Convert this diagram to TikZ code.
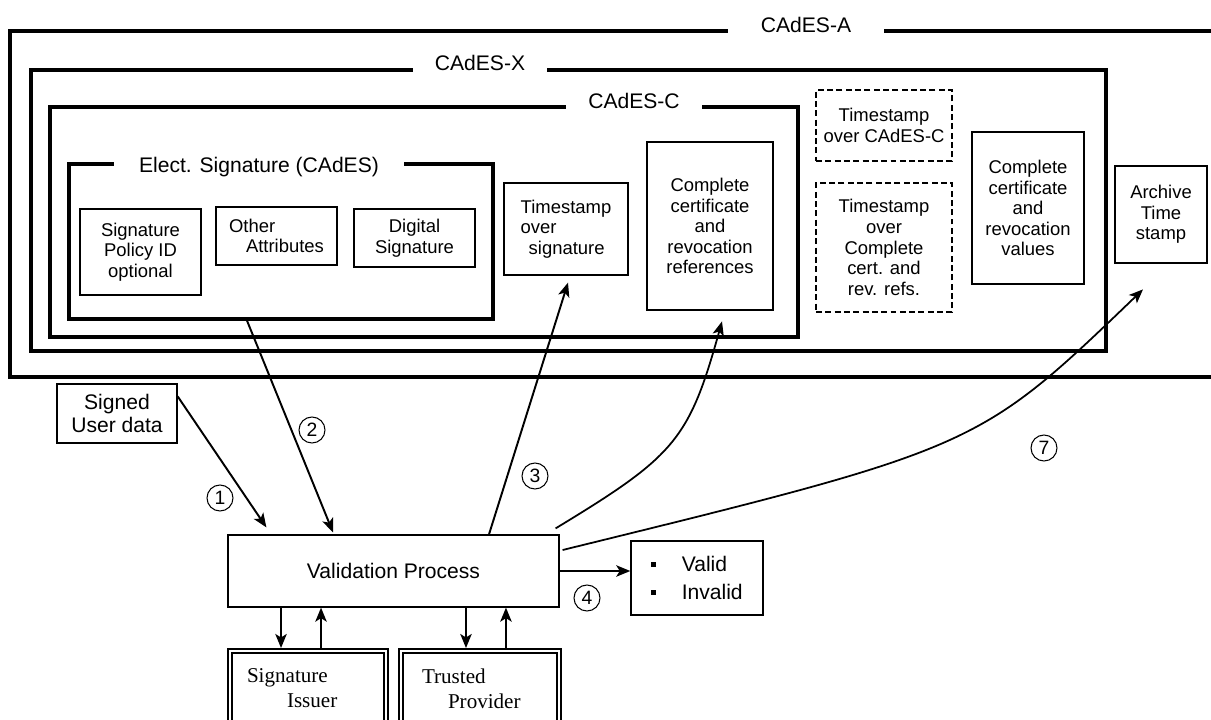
\documentclass[tikz,border=0pt]{standalone}
\usepackage{fontspec}
\setmainfont{Liberation Sans}
\newfontfamily\serifface{Liberation Serif}
\usetikzlibrary{arrows.meta}

\begin{document}
\begin{tikzpicture}[x=0.02cm, y=-0.02cm,
  >={Stealth[length=8pt,width=6.5pt,inset=2pt]},
  cadesframe/.style={draw, line width=1.9pt, inner sep=0pt},
  framelabel/.style={fill=white, inner xsep=0.44cm, inner ysep=2pt, font=\fontsize{12pt}{14pt}\selectfont},
  thinbox/.style={draw, line width=0.75pt, align=center, inner sep=0pt, font=\fontsize{10.5pt}{11.7pt}\selectfont},
  boldbox/.style={thinbox, line width=1.6pt},
  dashbox/.style={thinbox, line width=1.1pt, dash pattern=on 3.4pt off 1.9pt},
  procbox/.style={draw, line width=0.7pt, align=center, inner sep=0pt, font=\fontsize{12pt}{13.6pt}\selectfont},
  dblbox/.style={draw, double, line width=1.1pt, double distance=1.2pt, outer sep=1.7pt, inner sep=0pt, align=left, font=\serifface\fontsize{12pt}{14.2pt}\selectfont},
  numlabel/.style={draw, circle, line width=0.6pt, inner sep=0pt, minimum size=0.52cm, font=\fontsize{11pt}{13pt}\selectfont},
  conn/.style={->, line width=1.1pt},
  bentconn/.style={->, line width=1pt}
]

\useasboundingbox (0,0) rectangle (1211,720);
\clip (0,0) rectangle (1211,720);

% nested CAdES forms
\node[cadesframe, minimum width=24.6cm, minimum height=6.92cm] (cadesa) at (625,204) {};
\node[cadesframe, minimum width=21.5cm, minimum height=5.62cm] (cadesx) at (568.5,210.5) {};
\node[cadesframe, minimum width=14.96cm, minimum height=4.6cm] (cadesc) at (424,222) {};
\node[cadesframe, minimum width=8.48cm, minimum height=3.1cm] (esig) at (281,241.5) {};

\node[framelabel, inner xsep=0.65cm] (labela) at (806,25) {CAdES-A};
\node[framelabel] (labelx) at (480,63) {CAdES-X};
\node[framelabel] (labelc) at (634,101) {CAdES-C};
\node[framelabel, inner xsep=0.5cm] (labele) at (259,167) {Elect. Signature (CAdES)};

% signature content
\node[thinbox, minimum width=2.42cm, minimum height=1.72cm] (policy) at (140.5,252) {Signature\\Policy ID\\optional};
\node[thinbox, align=left, minimum width=2.42cm, minimum height=1.16cm] (attrs) at (276.5,236) {Other\\\hspace*{0.34cm}Attributes};
\node[thinbox, minimum width=2.42cm, minimum height=1.16cm] (digsig) at (414.5,238) {Digital\\Signature};
\node[thinbox, align=left, minimum width=2.48cm, minimum height=1.84cm] (tsig) at (566,229) {Timestamp\\over\\\hspace*{0.16cm}signature};
\node[boldbox, minimum width=2.52cm, minimum height=3.36cm] (crefs) at (710,226) {Complete\\certificate\\and\\revocation\\references};
\node[dashbox, minimum width=2.72cm, minimum height=1.42cm] (tscc) at (884,125.5) {Timestamp\\over CAdES-C};
\node[dashbox, minimum width=2.72cm, minimum height=2.58cm] (tscr) at (884,247.5) {Timestamp\\over\\Complete\\cert. and\\rev. refs.};
\node[boldbox, minimum width=2.24cm, minimum height=3.04cm] (cvals) at (1028,208) {Complete\\certificate\\and\\revocation\\values};
\node[boldbox, minimum width=1.84cm, minimum height=1.94cm] (arch) at (1161,214.5) {Archive\\Time\\stamp};

% validation
\node[procbox, line width=0.75pt, minimum width=2.4cm, minimum height=1.18cm] (userdata) at (117,413.5) {Signed\\User data};
\node[procbox, minimum width=6.62cm, minimum height=1.44cm] (valp) at (393.5,571) {Validation Process};
\node[procbox, line width=0.8pt, align=left, minimum width=2.64cm, minimum height=1.48cm, font=\fontsize{12pt}{15.9pt}\selectfont] (result) at (697,578)
  {\rule[0.1cm]{0.1cm}{0.1cm}\hspace{0.51cm}Valid\\\rule[0.1cm]{0.1cm}{0.1cm}\hspace{0.51cm}Invalid};
\node[dblbox, text width=3.12cm, minimum height=1.5cm] (issuer) at (308,688.5) {\hspace*{0.34cm}Signature\\\hspace*{1.14cm}Issuer};
\node[dblbox, text width=3.16cm, minimum height=1.5cm] (trusted) at (480,688.5) {\hspace*{0.42cm}Trusted\\\hspace*{0.94cm}Provider};

\node[numlabel] (one) at (220,498) {1};
\node[numlabel] (two) at (312,430) {2};
\node[numlabel] (three) at (535,476) {3};
\node[numlabel] (four) at (587,598) {4};
\node[numlabel] (seven) at (1044,448) {7};

\draw[conn] ([yshift=-0.26cm]userdata.north east) -- ([xshift=0.78cm,yshift=0.14cm]valp.north west);
\draw[conn] ([xshift=-0.68cm]esig.south) -- ([xshift=-1.21cm,yshift=0.04cm]valp.north);
\draw[conn] ([xshift=1.91cm]valp.north) -- ([xshift=0.04cm,yshift=-0.14cm]tsig.south);
\draw[bentconn] ([xshift=-0.08cm,yshift=0.12cm]valp.north east) .. controls (675,456) and (689,440) .. ([xshift=0.24cm,yshift=-0.2cm]crefs.south);
\draw[bentconn] ([xshift=0.06cm,yshift=0.42cm]valp.east) .. controls (978,448) .. ([xshift=-0.36cm,yshift=-0.5cm]arch.south);
\draw[conn] (valp.east) -- (valp.east -| result.west);

\draw[conn] ([xshift=-2.25cm]valp.south) -- ([xshift=-2.25cm]valp.south |- issuer.north);
\draw[conn] ([xshift=-1.45cm]valp.south |- issuer.north) -- ([xshift=-1.45cm]valp.south);
\draw[conn] ([xshift=1.45cm]valp.south) -- ([xshift=1.45cm]valp.south |- trusted.north);
\draw[conn] ([xshift=2.25cm]valp.south |- trusted.north) -- ([xshift=2.25cm]valp.south);

\end{tikzpicture}
\end{document}
